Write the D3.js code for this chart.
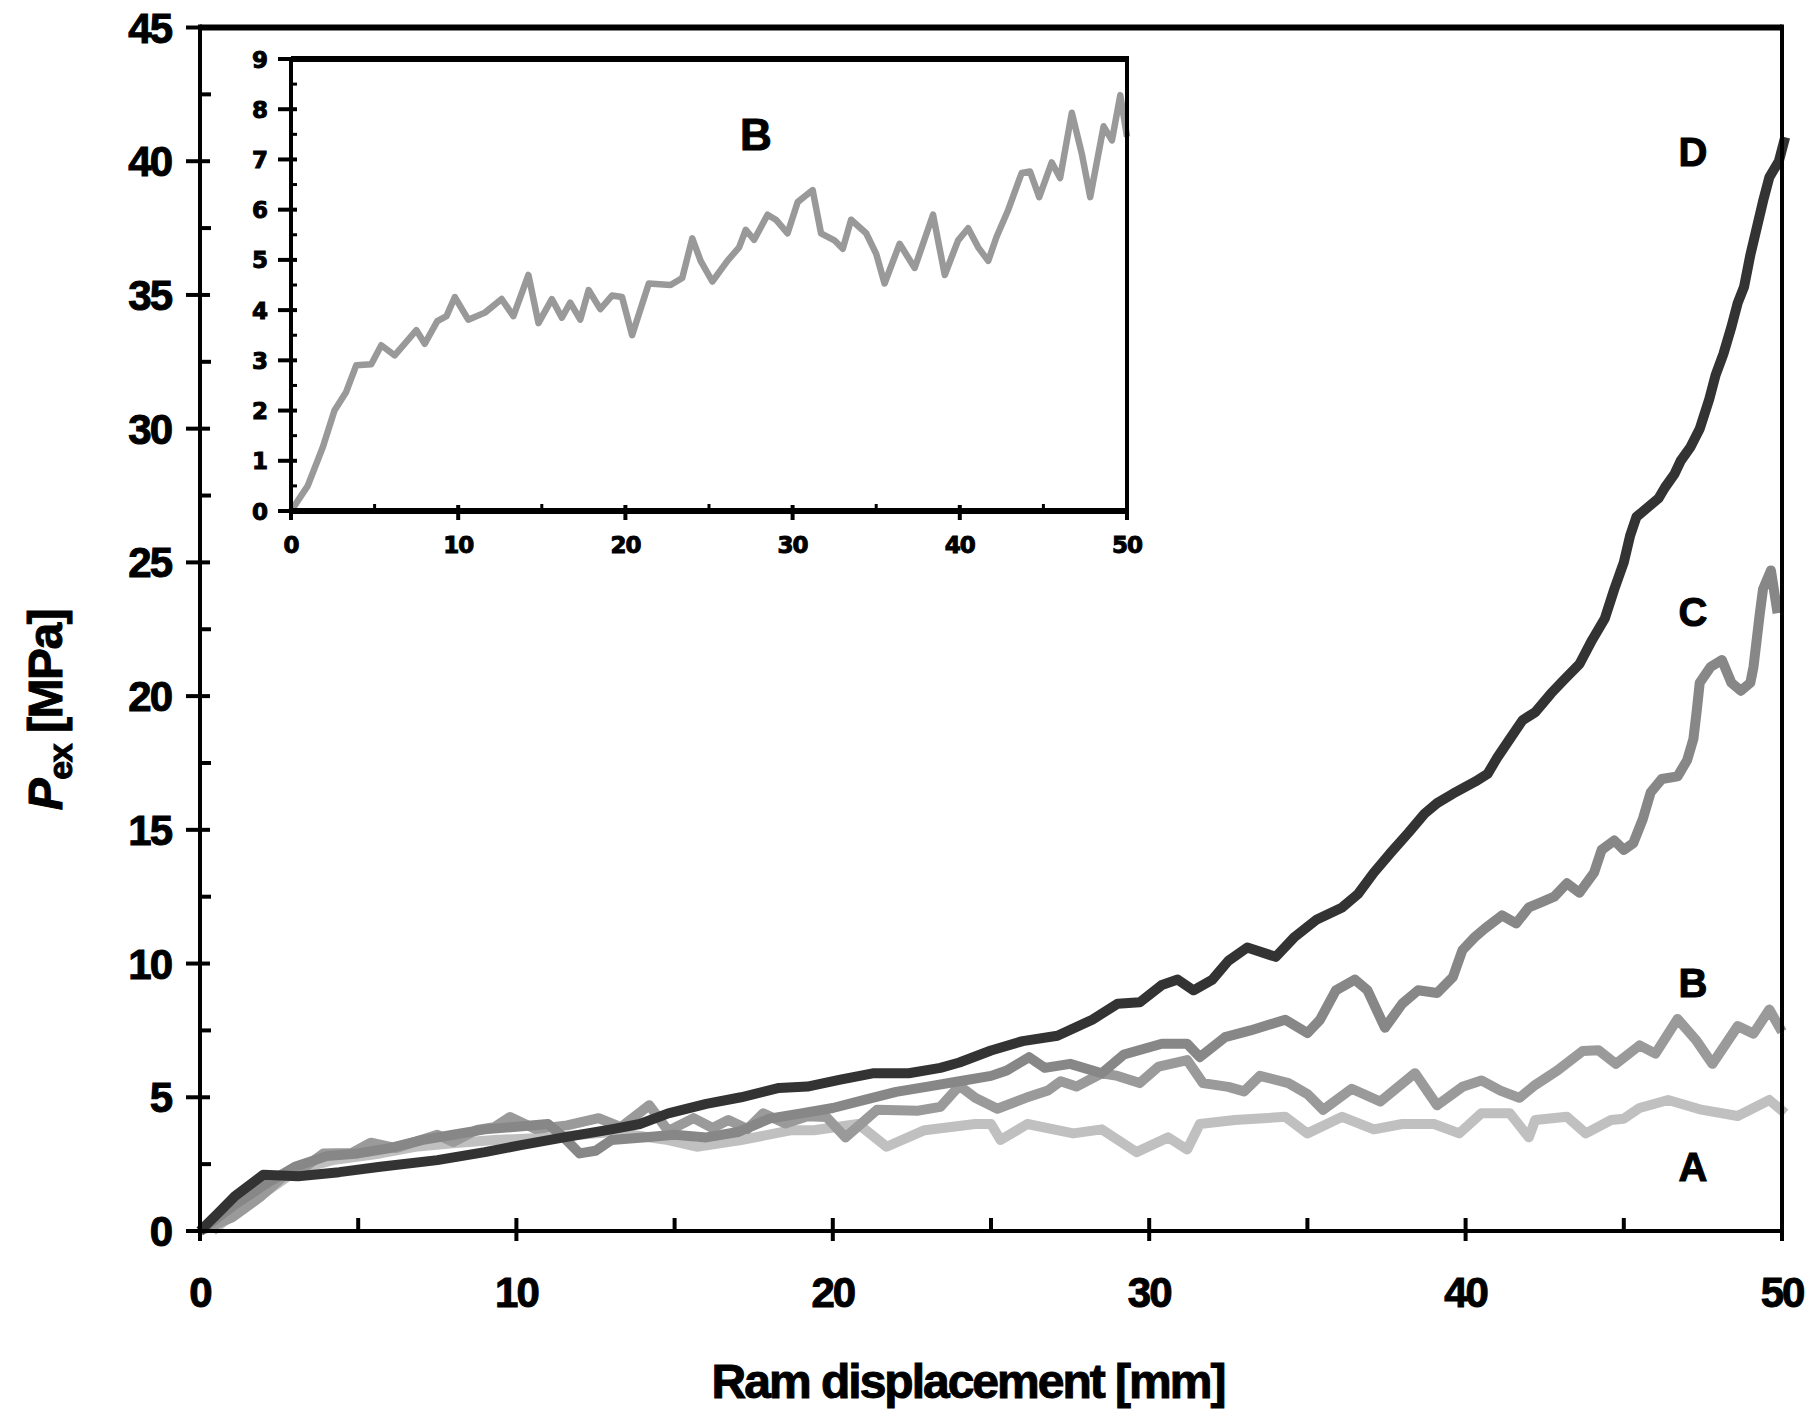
<!DOCTYPE html>
<html>
<head>
<meta charset="utf-8">
<script src="https://cdn.jsdelivr.net/npm/d3@7"></script>
<style>
body { margin: 0; background: #fff; }
text { font-family: "Liberation Sans", Arial, sans-serif; font-weight: bold; fill: #000; stroke: #000; stroke-width: 1px; }
</style>
</head>
<body>
<script>
// curve A
var dispA = [0.4,1.1,2.0,3.1,4.2,5.7,6.8,7.9,9.3,11.1,13.0,14.8,15.7,17.1,18.7,19.4,20.8,21.7,22.9,24.5,25.0,25.3,26.15,27.6,28.5,29.6,30.6,31.2,31.6,32.7,34.3,35.0,36.1,37.1,38.0,39.0,39.8,40.5,41.4,42.0,42.2,43.2,43.8,44.6,45.0,45.5,46.4,47.4,48.6,49.6,50.1];
var presA = [0,0.7,1.4,2.3,2.65,2.9,3.15,3.27,3.4,3.5,3.7,3.4,3.15,3.4,3.77,3.77,4.0,3.15,3.77,4.0,4.0,3.4,4.0,3.65,3.8,2.95,3.5,3.05,4.0,4.15,4.27,3.65,4.27,3.8,4.0,4.0,3.65,4.4,4.4,3.5,4.15,4.27,3.65,4.15,4.2,4.6,4.9,4.55,4.3,4.9,4.4];

// curve B (also the inset)
var dispB = [0,1.0,1.9,2.6,3.3,3.9,4.8,5.4,6.2,7.5,8.0,8.75,9.3,9.8,10.6,11.6,12.6,13.3,14.2,14.8,15.6,16.2,16.7,17.3,17.8,18.5,19.2,19.8,20.4,21.4,22.7,23.4,24.0,24.5,25.2,26.1,26.8,27.2,27.7,28.5,29.0,29.7,30.3,31.2,31.7,32.5,33.0,33.5,34.4,35.0,35.5,36.4,37.3,38.4,39.1,39.9,40.5,41.1,41.7,42.2,42.9,43.7,44.2,44.75,45.5,46.0,46.7,47.3,47.8,48.6,49.1,49.6,50.0];
var presB = [0,0.5,1.27,2.0,2.37,2.9,2.92,3.3,3.1,3.6,3.33,3.78,3.88,4.26,3.81,3.95,4.22,3.88,4.7,3.74,4.22,3.85,4.15,3.81,4.4,4.02,4.29,4.26,3.5,4.53,4.5,4.64,5.43,4.98,4.57,4.98,5.25,5.6,5.4,5.9,5.8,5.53,6.15,6.39,5.53,5.39,5.22,5.8,5.53,5.12,4.53,5.32,4.84,5.9,4.7,5.39,5.63,5.25,4.98,5.46,6.0,6.73,6.76,6.25,6.94,6.63,7.93,7.11,6.25,7.66,7.38,8.28,7.45];

// curve C
var dispC = [0,1,2,3,4,5,6,7,8,9,10,11,11.5,12,12.5,13,14,15,16,17,18,19,20,21,22,23,24,25,25.5,26.2,26.7,27.5,28.5,29.2,30.4,31.2,31.6,32.4,33.2,34.3,35.0,35.4,35.9,36.5,36.9,37.45,38.0,38.5,39.1,39.6,39.9,40.3,40.6,41.15,41.6,42.0,42.4,42.8,43.2,43.6,44.06,44.3,44.7,45.0,45.3,45.6,45.85,46.2,46.7,47.0,47.2,47.3,47.4,47.75,48.1,48.4,48.7,49.0,49.1,49.2,49.3,49.4,49.65,49.86];
var presC = [0,0.9,1.7,2.4,2.8,2.9,3.1,3.4,3.6,3.8,3.9,4.0,3.5,2.9,3.0,3.4,3.5,3.6,3.5,3.7,4.2,4.4,4.6,4.9,5.2,5.4,5.6,5.8,6.0,6.5,6.1,6.25,5.9,6.6,7.0,7.0,6.5,7.25,7.5,7.9,7.4,7.9,9.0,9.4,9.0,7.6,8.5,9.0,8.9,9.5,10.5,11.0,11.3,11.8,11.5,12.1,12.3,12.5,13.0,12.65,13.4,14.25,14.6,14.25,14.5,15.4,16.4,16.9,17.0,17.6,18.4,19.4,20.5,21.1,21.35,20.5,20.2,20.5,21.1,22.1,23.1,24.0,24.7,23.1];

// curve D
var dispD = [0,0.6,1.1,2.0,3.1,4.4,5.7,7.5,9.0,10.1,11.5,13.0,13.9,14.8,16.0,17.1,18.3,19.2,20.2,21.3,22.4,23.4,24.0,25.0,26.0,27.1,28.2,29.0,29.7,30.4,30.9,31.4,32.0,32.5,33.1,34.0,34.6,35.3,36.1,36.6,37.1,37.6,38.2,38.7,39.1,39.6,40.3,40.7,41.0,41.4,41.8,42.2,42.7,43.1,43.6,44.0,44.4,44.7,45.0,45.2,45.4,45.8,46.1,46.3,46.6,46.8,47.1,47.4,47.7,47.9,48.15,48.4,48.6,48.8,49.0,49.2,49.4,49.6,49.9,50.1];
var presD = [0,0.7,1.3,2.1,2.05,2.2,2.4,2.65,2.95,3.2,3.5,3.8,4.0,4.4,4.75,5.0,5.35,5.4,5.65,5.9,5.9,6.1,6.3,6.75,7.1,7.3,7.9,8.5,8.55,9.2,9.4,9.0,9.4,10.1,10.6,10.25,11.0,11.65,12.1,12.6,13.4,14.1,14.9,15.6,16.0,16.35,16.8,17.1,17.7,18.4,19.1,19.4,20.1,20.6,21.2,22.1,22.9,24.0,25.0,26.0,26.7,27.1,27.4,27.8,28.3,28.8,29.3,30.0,31.1,32.0,32.8,33.8,34.7,35.3,36.5,37.5,38.5,39.4,40.0,40.9];

var curveNames  = ["A", "B", "C", "D"];
var curveColors = ["#c0c0c0", "#9a9a9a", "#878787", "#333333"];

var mainXTicks  = [0, 10, 20, 30, 40, 50];
var mainXMinor  = [5, 15, 25, 35, 45];
var mainYTicks  = [0, 5, 10, 15, 20, 25, 30, 35, 40, 45];
var mainYMinor  = [2.5, 7.5, 12.5, 17.5, 22.5, 27.5, 32.5, 37.5, 42.5];
var insetXTicks = [0, 10, 20, 30, 40, 50];
var insetXMinor = [5, 15, 25, 35, 45];
var insetYTicks = [0, 1, 2, 3, 4, 5, 6, 7, 8, 9];
var insetYMinor = [0.5, 1.5, 2.5, 3.5, 4.5, 5.5, 6.5, 7.5, 8.5];

function pairs(xs, ys) { return xs.map(function(d, i) { return [d, ys[i]]; }); }
var curves = [pairs(dispA, presA), pairs(dispB, presB), pairs(dispC, presC), pairs(dispD, presD)];

var svg = d3.select("body").append("svg")
            .attr("width", 1811)
            .attr("height", 1411);

var x = d3.scaleLinear().domain([0, 50]).range([200, 1782]);
var y = d3.scaleLinear().domain([0, 45]).range([1231, 27.5]);

var line = d3.line().x(function(d) { return x(d[0]); }).y(function(d) { return y(d[1]); });

// main curves
svg.selectAll("path.curve")
   .data(curves)
   .enter()
   .append("path")
   .attr("class", "curve")
   .attr("d", line)
   .attr("fill", "none")
   .attr("stroke", function(d, i) { return curveColors[i]; })
   .attr("stroke-width", 10)
   .attr("stroke-linejoin", "round");

// main frame
svg.append("line").attr("x1", x(0)).attr("x2", x(50)).attr("y1", y(45)).attr("y2", y(45)).attr("stroke", "#000").attr("stroke-width", 6);
svg.append("line").attr("x1", x(0)).attr("x2", x(50)).attr("y1", y(0)).attr("y2", y(0)).attr("stroke", "#000").attr("stroke-width", 4);
svg.append("line").attr("x1", x(0)).attr("x2", x(0)).attr("y1", y(45) - 3).attr("y2", y(0)).attr("stroke", "#000").attr("stroke-width", 4);
svg.append("line").attr("x1", x(50)).attr("x2", x(50)).attr("y1", y(45) - 3).attr("y2", y(0) + 2).attr("stroke", "#000").attr("stroke-width", 4);

// main ticks
svg.selectAll("line.ymaj").data(mainYTicks).enter().append("line")
   .attr("x1", x(0) - 14).attr("x2", x(0) + 10)
   .attr("y1", y).attr("y2", y)
   .attr("stroke", "#000").attr("stroke-width", 4);
svg.selectAll("line.ymin").data(mainYMinor).enter().append("line")
   .attr("x1", x(0)).attr("x2", x(0) + 11)
   .attr("y1", y).attr("y2", y)
   .attr("stroke", "#000").attr("stroke-width", 4);
svg.selectAll("line.xmaj").data(mainXTicks).enter().append("line")
   .attr("x1", x).attr("x2", x)
   .attr("y1", y(0) - 13).attr("y2", y(0) + 10)
   .attr("stroke", "#000").attr("stroke-width", 4);
svg.selectAll("line.xmin").data(mainXMinor).enter().append("line")
   .attr("x1", x).attr("x2", x)
   .attr("y1", y(0) - 13).attr("y2", y(0))
   .attr("stroke", "#000").attr("stroke-width", 4);

svg.selectAll("text.ylab").data(mainYTicks).enter().append("text")
   .attr("x", 171).attr("y", function(d) { return y(d) + 15; })
   .attr("text-anchor", "end")
   .style("font-size", "42px").style("letter-spacing", "-2px")
   .text(function(d) { return d; });
svg.selectAll("text.xlab").data(mainXTicks).enter().append("text")
   .attr("x", x).attr("y", 1307)
   .attr("text-anchor", "middle")
   .style("font-size", "42px").style("letter-spacing", "-2px")
   .text(function(d) { return d; });

// axis titles
svg.append("text")
   .attr("x", 968).attr("y", 1398)
   .attr("text-anchor", "middle")
   .style("font-size", "48px").style("letter-spacing", "-2px")
   .text("Ram displacement [mm]");

var yt = svg.append("text")
   .attr("transform", "translate(62,710) rotate(-90)")
   .attr("text-anchor", "middle")
   .style("font-size", "48px").style("letter-spacing", "-1.5px");
yt.append("tspan").style("font-style", "italic").text("P");
yt.append("tspan").attr("dy", 10).style("font-size", "34px").text("ex");
yt.append("tspan").attr("dy", -10).text(" [MPa]");

// curve labels
var labelY = [1167, 983, 612, 152];
svg.selectAll("text.clab").data(curveNames).enter().append("text")
   .attr("x", 1693).attr("y", function(d, i) { return labelY[i] + 14; })
   .attr("text-anchor", "middle")
   .style("font-size", "40px")
   .text(function(d) { return d; });

// inset
var xi = d3.scaleLinear().domain([0, 50]).range([291, 1127]);
var yi = d3.scaleLinear().domain([0, 9]).range([511, 59]);
var insetLine = d3.line().x(function(d) { return xi(d[0]); }).y(function(d) { return yi(d[1]); });

svg.append("rect").attr("x", xi(0)).attr("y", yi(9)).attr("width", xi(50) - xi(0)).attr("height", yi(0) - yi(9)).attr("fill", "#fff");

svg.append("path")
   .datum(curves[1])
   .attr("d", insetLine)
   .attr("fill", "none")
   .attr("stroke", "#999999")
   .attr("stroke-width", 6.5)
   .attr("stroke-linejoin", "round");

svg.append("line").attr("x1", xi(0)).attr("x2", xi(50) + 2).attr("y1", yi(9)).attr("y2", yi(9)).attr("stroke", "#000").attr("stroke-width", 6);
svg.append("line").attr("x1", xi(0)).attr("x2", xi(50) + 2).attr("y1", yi(0)).attr("y2", yi(0)).attr("stroke", "#000").attr("stroke-width", 6);
svg.append("line").attr("x1", xi(0)).attr("x2", xi(0)).attr("y1", yi(9)).attr("y2", yi(0)).attr("stroke", "#000").attr("stroke-width", 4);
svg.append("line").attr("x1", xi(50)).attr("x2", xi(50)).attr("y1", yi(9) - 3).attr("y2", yi(0) + 9).attr("stroke", "#000").attr("stroke-width", 4);

svg.selectAll("line.iymaj").data(insetYTicks).enter().append("line")
   .attr("x1", xi(0) - 13).attr("x2", xi(0) + 6)
   .attr("y1", yi).attr("y2", yi)
   .attr("stroke", "#000").attr("stroke-width", 4);
svg.selectAll("line.iymin").data(insetYMinor).enter().append("line")
   .attr("x1", xi(0)).attr("x2", xi(0) + 6)
   .attr("y1", yi).attr("y2", yi)
   .attr("stroke", "#000").attr("stroke-width", 3);
svg.selectAll("line.ixmaj").data(insetXTicks).enter().append("line")
   .attr("x1", xi).attr("x2", xi)
   .attr("y1", yi(0) - 6).attr("y2", yi(0) + 9)
   .attr("stroke", "#000").attr("stroke-width", 4);
svg.selectAll("line.ixmin").data(insetXMinor).enter().append("line")
   .attr("x1", xi).attr("x2", xi)
   .attr("y1", yi(0) - 7).attr("y2", yi(0))
   .attr("stroke", "#000").attr("stroke-width", 3);

svg.selectAll("text.iylab").data(insetYTicks).enter().append("text")
   .attr("x", 268).attr("y", function(d) { return yi(d) + 8.5; })
   .attr("text-anchor", "end")
   .style("font-family", "'DejaVu Sans', sans-serif")
   .style("font-size", "23px")
   .text(function(d) { return d; });
svg.selectAll("text.ixlab").data(insetXTicks).enter().append("text")
   .attr("x", xi).attr("y", 553)
   .attr("text-anchor", "middle")
   .style("font-family", "'DejaVu Sans', sans-serif")
   .style("font-size", "23px").style("letter-spacing", "-1px")
   .text(function(d) { return d; });

svg.append("text")
   .attr("x", 756).attr("y", 150)
   .attr("text-anchor", "middle")
   .style("font-size", "44px")
   .text("B");
</script>
</body>
</html>
